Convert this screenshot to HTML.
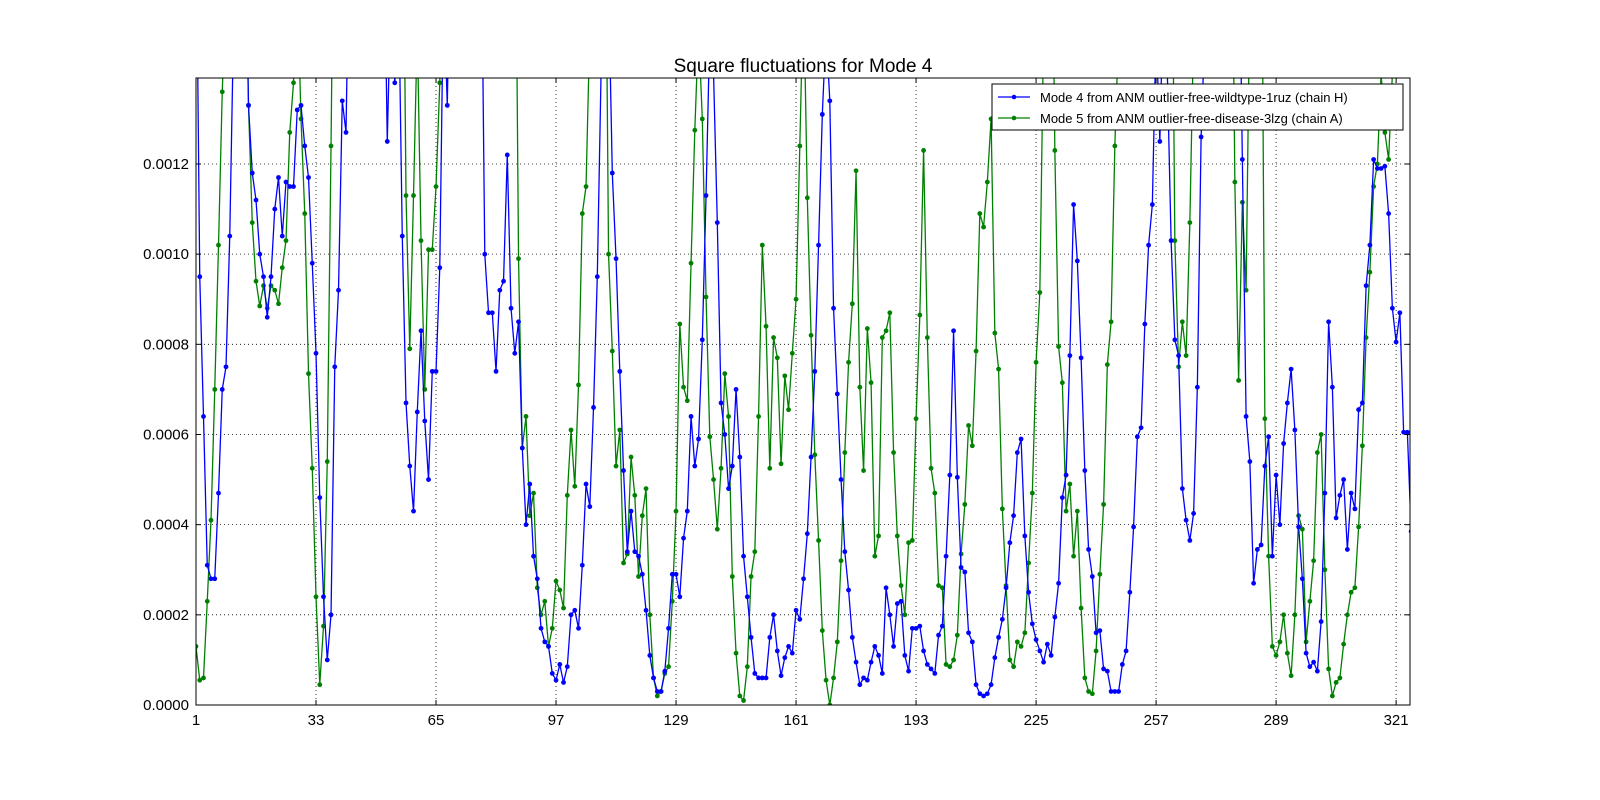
<!DOCTYPE html>
<html><head><meta charset="utf-8"><style>
html,body{margin:0;padding:0;background:#fff;overflow:hidden;width:1600px;height:800px;}
svg{display:block;font-family:"Liberation Sans","DejaVu Sans",sans-serif;}
</style></head><body>
<svg id="chart" width="1600" height="800" viewBox="0 0 1600 800">
<rect width="1600" height="800" fill="#fff"/>
<text x="803" y="72" font-size="19" text-anchor="middle">Square fluctuations for Mode 4</text>
<defs><clipPath id="pc"><rect x="196" y="78" width="1214" height="627"/></clipPath></defs>
<g id="grid"></g>
<g id="series" clip-path="url(#pc)"></g>
<rect x="196" y="78" width="1214" height="627" fill="none" stroke="#000" stroke-width="1"/>
<g id="axes"></g>
<g>
<rect x="992" y="84" width="411" height="46" fill="#fff" stroke="#000" stroke-width="1"/>
<line x1="998" y1="97" x2="1030" y2="97" stroke="#0000ff" stroke-width="1.3"/><circle cx="1014" cy="97" r="2.3" fill="#0000ff"/>
<text x="1040" y="102" font-size="13">Mode 4 from ANM outlier-free-wildtype-1ruz (chain H)</text>
<line x1="998" y1="118" x2="1030" y2="118" stroke="#008000" stroke-width="1.3"/><circle cx="1014" cy="118" r="2.3" fill="#008000"/>
<text x="1040" y="123" font-size="13">Mode 5 from ANM outlier-free-disease-3lzg (chain A)</text>
</g>
</svg>
<script>
const xTicks=[1,33,65,97,129,161,193,225,257,289,321];
const yTicks=[0,0.0002,0.0004,0.0006,0.0008,0.0010,0.0012];
const yTickLabels=["0.0000","0.0002","0.0004","0.0006","0.0008","0.0010","0.0012"];
// values in units of 1e-4
const blueVals=[18,9.5,6.4,3.1,2.8,2.8,4.7,7.0,7.5,10.4,15,18,18,18,13.3,11.8,11.2,10.0,9.5,8.6,9.5,11.0,11.7,10.4,11.6,11.5,11.5,13.2,13.3,12.4,11.7,9.8,7.8,4.6,2.4,1.0,2.0,7.5,9.2,13.4,12.7,18,18,18,18,18,18,18,18,18,18,12.5,16,13.8,16,10.4,6.7,5.3,4.3,6.5,8.3,6.3,5.0,7.4,7.4,9.7,16,13.3,18,18,18,18,18,18,18,18,18,10.0,8.7,8.7,7.4,9.2,9.4,12.2,8.8,7.8,8.5,5.7,4.0,4.9,3.3,2.8,1.7,1.4,1.3,0.7,0.55,0.9,0.5,0.85,2.0,2.1,1.7,3.1,4.9,4.4,6.6,9.5,14,17,16,11.8,9.9,7.4,5.2,3.4,4.3,3.4,3.3,2.9,2.1,1.1,0.6,0.3,0.3,0.75,1.7,2.9,2.9,2.4,3.7,4.3,6.4,5.3,5.9,8.1,11.3,15,14,10.7,6.7,6.0,4.8,5.3,7.0,5.5,3.3,2.4,1.5,0.7,0.6,0.6,0.6,1.5,2.0,1.2,0.65,1.05,1.3,1.15,2.1,1.9,2.8,3.8,5.5,7.4,10.2,13.1,15,13.4,8.8,6.9,5.0,3.4,2.55,1.5,0.95,0.45,0.6,0.55,0.95,1.3,1.1,0.7,2.6,2.0,1.3,2.25,2.3,1.1,0.75,1.7,1.7,1.75,1.2,0.9,0.8,0.7,1.55,1.75,3.3,5.1,8.3,5.05,3.05,2.95,1.6,1.4,0.45,0.25,0.2,0.25,0.45,1.05,1.5,1.9,2.6,3.6,4.2,5.6,5.9,3.75,2.5,1.8,1.45,1.2,0.95,1.35,1.1,1.95,2.7,4.6,5.1,7.75,11.1,9.85,7.7,5.2,3.45,2.85,1.6,1.65,0.8,0.75,0.3,0.3,0.3,0.9,1.2,2.5,3.95,5.95,6.15,8.45,10.2,11.1,15,12.5,16,14,10.3,8.1,7.75,4.8,4.1,3.65,4.25,7.05,12.6,15,18,18,18,18,18,18,18,18,18,12.1,6.4,5.4,2.7,3.45,3.55,5.3,5.95,3.3,5.1,4.0,5.8,6.7,7.45,6.1,3.95,2.8,1.15,0.85,0.95,0.75,1.85,4.7,8.5,7.05,4.15,4.65,5.0,3.45,4.7,4.35,6.55,6.7,9.3,10.2,12.1,11.9,11.9,11.95,10.9,8.8,8.05,8.7,6.05,6.05,3.85];
const greenVals=[1.3,0.55,0.6,2.3,4.1,7.0,10.2,13.6,16,18,18,18,18,18,13.3,10.7,9.4,8.85,9.3,8.8,9.3,9.2,8.9,9.7,10.3,12.7,13.8,16,13.0,10.9,7.35,5.25,2.4,0.45,1.75,5.4,12.4,20,20,20,20,20,20,20,20,20,20,20,20,20,20,20,20,20,20,20,11.3,7.9,11.3,15,10.3,7.0,10.1,10.1,11.5,13.8,20,20,20,20,20,20,20,20,20,20,20,20,20,20,20,20,20,20,20,20,9.9,5.7,6.4,4.2,4.7,2.6,2.0,2.3,1.3,1.7,2.75,2.55,2.15,4.65,6.1,4.85,7.1,10.9,11.5,15,20,20,20,20,10.0,7.85,5.3,6.1,3.15,3.35,5.5,4.65,2.85,4.2,4.8,2.0,0.6,0.2,0.3,0.7,0.85,2.3,4.3,8.45,7.05,6.75,9.8,12.75,15,13,9.05,5.95,5.0,3.9,5.25,7.35,6.4,2.85,1.15,0.2,0.1,0.85,2.85,3.4,6.4,10.2,8.4,5.25,8.15,7.7,5.35,7.3,6.55,7.8,9.0,12.4,16,11.25,8.2,5.55,3.65,1.65,0.55,0.0,0.6,1.4,3.2,5.6,7.6,8.9,11.85,7.05,5.2,8.35,7.15,3.3,3.75,8.15,8.3,8.7,5.6,3.75,2.65,2.0,3.6,3.65,6.35,8.65,12.3,8.15,5.25,4.7,2.65,2.6,0.9,0.85,1.0,1.55,3.35,4.45,6.2,5.75,7.85,10.9,10.6,11.6,13,8.25,7.45,4.35,2.65,1.0,0.85,1.4,1.3,1.6,3.15,4.7,7.6,9.15,15,20,20,12.3,7.95,7.15,4.3,4.9,3.3,4.3,2.15,0.6,0.3,0.25,1.2,2.9,4.45,7.55,8.5,12.4,15,20,20,20,20,20,20,20,20,20,20,20,20,20,20,10.3,7.5,8.5,7.75,10.7,15,20,20,20,20,20,20,20,20,20,20,11.6,7.2,11.15,9.2,16,20,20,20,6.35,3.3,1.3,1.1,1.4,2.0,1.15,0.65,2.0,4.2,3.9,1.4,2.3,3.2,5.6,6.0,3.0,0.8,0.2,0.5,0.6,1.35,2.0,2.5,2.6,3.95,5.75,8.15,9.6,11.5,12.0,14,12.7,12.1,14,20,20];

const NS='http://www.w3.org/2000/svg';
const X0=196,X1=1410,Y0=705,Y1=78,XMAX=324.7,YMAX=0.0013907;
function xs(v){return X0+(v-1)/(XMAX-1)*(X1-X0);}
function ys(v){return Y0-v/YMAX*(Y0-Y1);}
function mk(tag,attrs,parent){const e=document.createElementNS(NS,tag);for(const k in attrs)e.setAttribute(k,attrs[k]);parent.appendChild(e);return e;}
const grid=document.getElementById('grid'),axes=document.getElementById('axes'),series=document.getElementById('series');
xTicks.forEach((t,i)=>{
  const x=xs(t);
  if(i>0){const g=mk('line',{x1:x,x2:x,y1:Y1,y2:Y0,stroke:'#000','stroke-dasharray':'1,3','stroke-width':0.8},grid);
  
  }
  mk('line',{x1:x,x2:x,y1:Y0,y2:Y0-5,stroke:'#000'},axes);
  mk('line',{x1:x,x2:x,y1:Y1,y2:Y1+5,stroke:'#000'},axes);
  const tx=mk('text',{x:x,y:Y0+20,'font-size':15,'text-anchor':'middle'},axes);
  tx.textContent=t;
  
  
});
yTicks.forEach((t,i)=>{
  const y=ys(t);
  if(i>0){const g=mk('line',{x1:X0,x2:X1,y1:y,y2:y,stroke:'#000','stroke-dasharray':'1,3','stroke-width':0.8},grid);
  
  }
  mk('line',{x1:X0,x2:X0+5,y1:y,y2:y,stroke:'#000'},axes);
  mk('line',{x1:X1,x2:X1-5,y1:y,y2:y,stroke:'#000'},axes);
  const tx=mk('text',{x:X0-7,y:y+5,'font-size':15,'text-anchor':'end'},axes);
  tx.textContent=yTickLabels[i];
  
  
});
function drawSeries(vals,color,name){
  const g=mk('g',{},series);
  
  
  const pts=vals.map((v,i)=>[xs(i+1),ys(v*1e-4)]);
  mk('polyline',{points:pts.map(p=>p.join(',')).join(' '),fill:'none',stroke:color,'stroke-width':1.3},g);
  pts.forEach(p=>{const c=mk('circle',{cx:p[0],cy:p[1],r:2.4,fill:color},g);
    
    });
}
drawSeries(greenVals,'#008000','mode5-series');
drawSeries(blueVals,'#0000ff','mode4-series');
</script>
</body></html>
